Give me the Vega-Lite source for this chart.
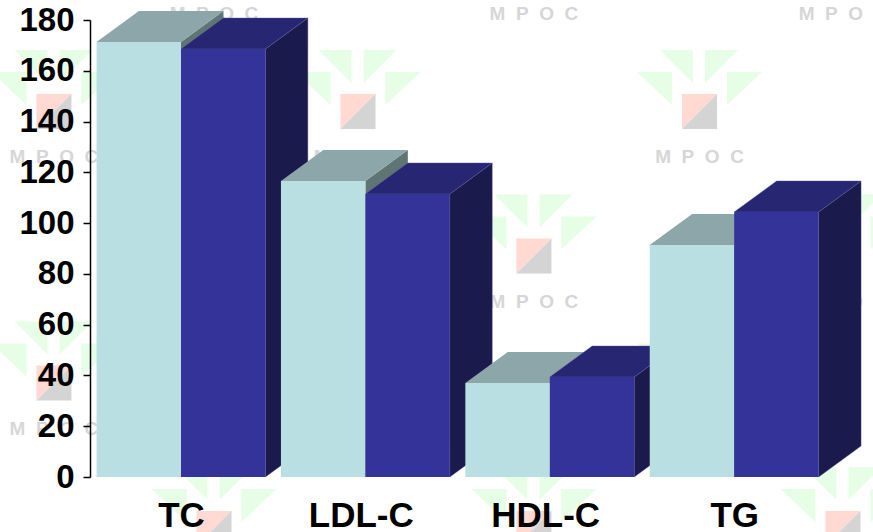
{
  "$schema": "https://vega.github.io/schema/vega-lite/v6.json",
  "width": 783,
  "height": 457,
  "autosize": "none",
  "padding": {"left": 90, "top": 20, "right": 0, "bottom": 55},
  "background": "#ffffff",
  "view": {"stroke": null},
  "config": {"font": "Liberation Sans"},
  "datasets": {
    "lipids": [
      {"marker": "TC", "pos": 1, "series": "A", "value": 171.3},
      {"marker": "TC", "pos": 1, "series": "B", "value": 168.6},
      {"marker": "LDL-C", "pos": 2, "series": "A", "value": 116.6},
      {"marker": "LDL-C", "pos": 2, "series": "B", "value": 111.5},
      {"marker": "HDL-C", "pos": 3, "series": "A", "value": 37},
      {"marker": "HDL-C", "pos": 3, "series": "B", "value": 39.4},
      {"marker": "TG", "pos": 4, "series": "A", "value": 91.4},
      {"marker": "TG", "pos": 4, "series": "B", "value": 104.4}
    ],
    "brand": [
      {"pos": 0.311, "level": 144},
      {"pos": 1.96, "level": 144},
      {"pos": 3.812, "level": 144},
      {"pos": 2.914, "level": 87},
      {"pos": 4.59, "level": 87},
      {"pos": 0.311, "level": 37},
      {"pos": 3.812, "level": 37},
      {"pos": 1.179, "level": -20.3},
      {"pos": 2.914, "level": -20.3},
      {"pos": 4.59, "level": -20.3},
      {"pos": 1.179, "level": 200.5},
      {"pos": 2.914, "level": 200.5},
      {"pos": 4.59, "level": 200.5}
    ]
  },
  "layer": [
    {
      "data": {"name": "brand"},
      "encoding": {
        "x": {"field": "pos", "type": "quantitative", "scale": {"domain": [0.5065, 4.7527], "nice": false}},
        "y": {"field": "level", "type": "quantitative", "scale": {"domain": [0, 180], "nice": false}}
      },
      "layer": [
        {
          "mark": {
            "type": "point", "filled": true, "opacity": 1, "size": 40000, "clip": false, "color": "#E6FEE6",
            "shape": "M-.395,-.615L-.065,-.615L-.065,-.285ZM.055,-.615L.385,-.615L.055,-.285ZM-.625,-.395L-.275,-.395L-.275,-.065ZM.275,-.395L.625,-.395L.275,-.065Z"
          }
        },
        {
          "mark": {
            "type": "point", "filled": true, "opacity": 1, "size": 40000, "clip": false, "color": "#FFD9D2",
            "shape": "M-.175,-.175L.175,-.175L-.175,.175Z"
          }
        },
        {
          "mark": {
            "type": "point", "filled": true, "opacity": 1, "size": 40000, "clip": false, "color": "#D4D4D4",
            "shape": "M.175,-.175L.175,.175L-.175,.175Z"
          }
        },
        {
          "mark": {
            "type": "text", "text": "M\u00a0\u00a0P\u00a0\u00a0O\u00a0\u00a0C", "dy": 46, "fontSize": 19, "fontWeight": "bold",
            "color": "#D6D6D6", "font": "Liberation Sans", "clip": false
          }
        }
      ]
    },
    {
      "data": {"name": "lipids"},
      "transform": [
        {"calculate": "datum.series === 'A' ? datum.pos - 0.458 : datum.pos", "as": "left"},
        {"calculate": "datum.left + 0.458", "as": "right"},
        {"calculate": "[0, 1]", "as": "edge"},
        {"flatten": ["edge"]},
        {"calculate": "datum.edge * 0.23", "as": "shiftX"},
        {"calculate": "datum.edge * 12.2", "as": "shiftY"},
        {"calculate": "datum.right + datum.shiftX", "as": "sideX"},
        {"calculate": "datum.left + datum.shiftX", "as": "topLeft"},
        {"calculate": "datum.value + datum.shiftY", "as": "backTop"}
      ],
      "layer": [
        {
          "transform": [{"filter": "datum.series === 'B'"}],
          "mark": {"type": "area", "color": "#1A1A4D", "clip": false, "stroke": "#5A5A9E", "strokeWidth": 0.4},
          "encoding": {
            "x": {"field": "sideX", "type": "quantitative", "title": null, "scale": {"domain": [0.5065, 4.7527], "nice": false},
              "axis": {"values": [1, 1.975, 2.975, 4], "labelExpr": "['TC', 'LDL-C', 'HDL-C', 'TG'][round(datum.value) - 1]", "domain": false, "ticks": false, "grid": false,
                "labelFontSize": 35, "labelFontWeight": "bold", "labelColor": "#000000", "labelPadding": 21, "labelFont": "Liberation Sans", "zindex": 1}},
            "y": {"field": "backTop", "type": "quantitative", "title": null, "scale": {"domain": [0, 180], "nice": false},
              "axis": {"values": [0, 20, 40, 60, 80, 100, 120, 140, 160, 180], "grid": false, "domainColor": "#000000", "domainWidth": 1.5, "tickColor": "#000000", "tickWidth": 1.5, "tickSize": 7,
                "labelFontSize": 33, "labelFontWeight": "bold", "labelColor": "#000000", "labelPadding": 9, "labelFont": "Liberation Sans", "offset": 0, "zindex": 1}},
            "y2": {"field": "shiftY"},
            "detail": {"field": "marker"}
          }
        },
        {
          "transform": [{"filter": "datum.series === 'A'"}],
          "mark": {"type": "area", "color": "#5F7573", "clip": false},
          "encoding": {
            "x": {"field": "sideX", "type": "quantitative"},
            "y": {"field": "backTop", "type": "quantitative"},
            "y2": {"field": "shiftY"},
            "detail": {"field": "marker"}
          }
        },
        {
          "transform": [{"filter": "datum.series === 'A'"}],
          "mark": {"type": "area", "orient": "horizontal", "color": "#8CA6A9", "clip": false},
          "encoding": {
            "y": {"field": "backTop", "type": "quantitative"},
            "x": {"field": "topLeft", "type": "quantitative"},
            "x2": {"field": "sideX"},
            "detail": {"field": "marker"}
          }
        },
        {
          "transform": [{"filter": "datum.series === 'B'"}],
          "mark": {"type": "area", "orient": "horizontal", "color": "#262673", "clip": false, "stroke": "#5A5A9E", "strokeWidth": 0.4},
          "encoding": {
            "y": {"field": "backTop", "type": "quantitative"},
            "x": {"field": "topLeft", "type": "quantitative"},
            "x2": {"field": "sideX"},
            "detail": {"field": "marker"}
          }
        },
        {
          "transform": [{"filter": "datum.series === 'A' && datum.edge === 0"}],
          "mark": {"type": "rect", "color": "#B9DFE2", "clip": false},
          "encoding": {
            "x": {"field": "left", "type": "quantitative"},
            "x2": {"field": "right"},
            "y": {"field": "value", "type": "quantitative"},
            "y2": {"datum": 0}
          }
        },
        {
          "transform": [{"filter": "datum.series === 'B' && datum.edge === 0"}],
          "mark": {"type": "rect", "color": "#333399", "clip": false},
          "encoding": {
            "x": {"field": "left", "type": "quantitative"},
            "x2": {"field": "right"},
            "y": {"field": "value", "type": "quantitative"},
            "y2": {"datum": 0}
          }
        }
      ]
    }
  ]
}
